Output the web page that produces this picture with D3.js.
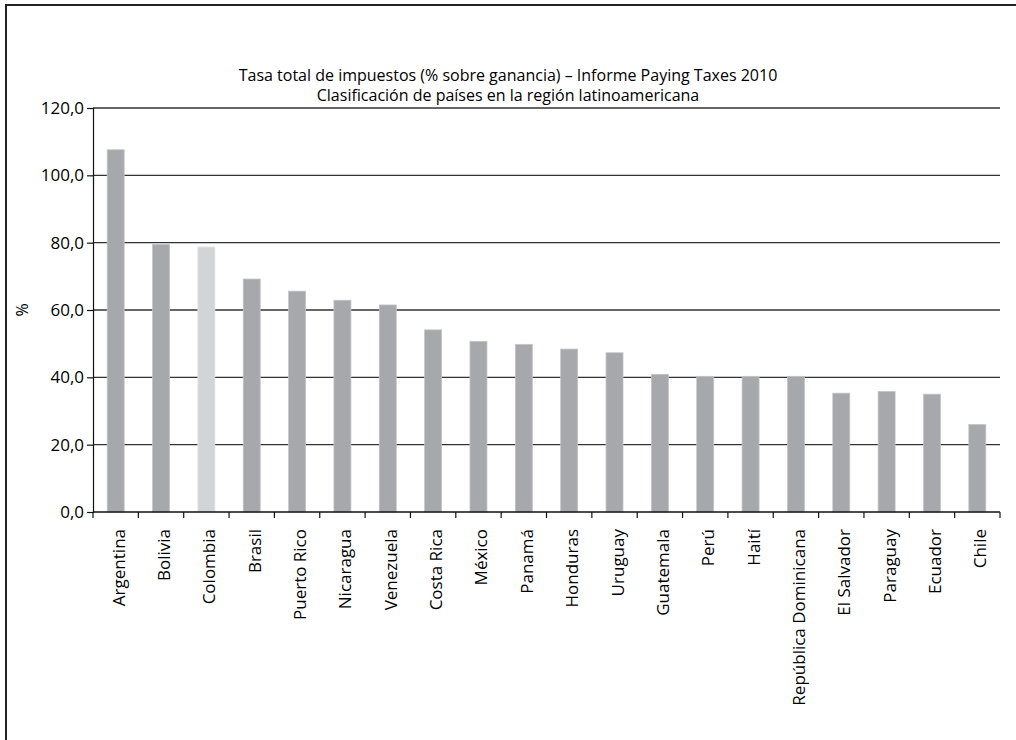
<!DOCTYPE html>
<html>
<head>
<meta charset="utf-8">
<script src="https://cdn.jsdelivr.net/npm/d3@7"></script>
<style>
  html, body { margin: 0; padding: 0; background: #fff; }
  svg { display: block; }
  text { font-family: "Open Sans", "Noto Sans", sans-serif; fill: #000; }
</style>
</head>
<body>
<svg id="chart" width="1016" height="740"></svg>
<script>
const titleLines = [
  "Tasa total de impuestos (% sobre ganancia) – Informe Paying Taxes 2010",
  "Clasificación de países en la región latinoamericana"
];
const yAxisLabel = "%";
const countries = ["Argentina", "Bolivia", "Colombia", "Brasil", "Puerto Rico", "Nicaragua",
  "Venezuela", "Costa Rica", "México", "Panamá", "Honduras", "Uruguay", "Guatemala", "Perú",
  "Haití", "República Dominicana", "El Salvador", "Paraguay", "Ecuador", "Chile"];
const values = [107.6, 79.5, 78.7, 69.2, 65.6, 62.9, 61.5, 54.1, 50.7, 49.8, 48.4, 47.3,
  40.9, 40.3, 40.3, 40.3, 35.3, 35.8, 35.0, 26.0];
const highlighted = ["Colombia"];
const yTicks = [0, 20, 40, 60, 80, 100, 120];

const svg = d3.select("#chart");
const margin = { left: 93, right: 16, top: 108, bottom: 228 };
const W = 1016, H = 740;

// outer frame
svg.append("rect")
  .attr("x", 6).attr("y", 5).attr("width", 1030).attr("height", 800)
  .attr("fill", "none").attr("stroke", "#222").attr("stroke-width", 2);

const x = d3.scaleBand().domain(countries)
  .range([margin.left, W - margin.right])
  .paddingInner(0.625).paddingOuter(0.3125);
const y = d3.scaleLinear().domain([0, 120]).range([H - margin.bottom, margin.top]);

// title
svg.append("g").selectAll("text").data(titleLines).join("text")
  .attr("x", 508).attr("y", (d, i) => 81 + i * 20)
  .attr("text-anchor", "middle")
  .style("font-size", "16px")
  .text(d => d);

// grid lines
svg.append("g").selectAll("line").data(yTicks.filter(t => t > 0)).join("line")
  .attr("x1", margin.left).attr("x2", W - margin.right)
  .attr("y1", d => y(d)).attr("y2", d => y(d))
  .attr("stroke", "#333").attr("stroke-width", 1.4);

// bars
svg.append("g").selectAll("rect").data(countries).join("rect")
  .attr("x", d => x(d))
  .attr("y", (d, i) => y(values[i]))
  .attr("width", x.bandwidth())
  .attr("height", (d, i) => y(0) - y(values[i]))
  .attr("fill", d => highlighted.includes(d) ? "#d3d4d6" : "#a7a8ab")
  .attr("stroke", d => highlighted.includes(d) ? "#e2e3e4" : "#c4c5c7")
  .attr("stroke-width", 0.8);

// y axis
const yAxis = d3.axisLeft(y).tickValues(yTicks).tickSize(6).tickPadding(3)
  .tickFormat(d => d3.format(".1f")(d).replace(".", ","));
const gy = svg.append("g").attr("transform", `translate(${margin.left},0)`).call(yAxis);
gy.select(".domain").attr("stroke", "#111").attr("stroke-width", 1.2);
gy.selectAll(".tick line").attr("stroke", "#111").attr("stroke-width", 1.2);
gy.selectAll(".tick text").style("font-size", "17px").attr("fill", "#000");

// x axis baseline & ticks at category boundaries
const step = x.step();
svg.append("line")
  .attr("x1", margin.left).attr("x2", W - margin.right)
  .attr("y1", y(0)).attr("y2", y(0))
  .attr("stroke", "#111").attr("stroke-width", 1.4);
const edges = countries.map(c => x(c) + x.bandwidth() / 2 - step / 2)
  .concat([x(countries[countries.length - 1]) + x.bandwidth() / 2 + step / 2]);
svg.append("g").selectAll("line").data(edges).join("line")
  .attr("x1", d => d).attr("x2", d => d)
  .attr("y1", y(0)).attr("y2", y(0) + 6)
  .attr("stroke", "#111").attr("stroke-width", 1.2);

// x labels
svg.append("g").selectAll("text").data(countries).join("text")
  .attr("transform", d => `translate(${x(d) + x.bandwidth() / 2 + 9},${y(0) + 17}) rotate(-90)`)
  .attr("text-anchor", "end")
  .style("font-size", "17px")
  .text(d => d);

// y axis label
svg.append("text")
  .attr("transform", `translate(28,${(y(0) + y(120)) / 2}) rotate(-90)`)
  .attr("text-anchor", "middle")
  .style("font-size", "16px")
  .text(yAxisLabel);
</script>
</body>
</html>
